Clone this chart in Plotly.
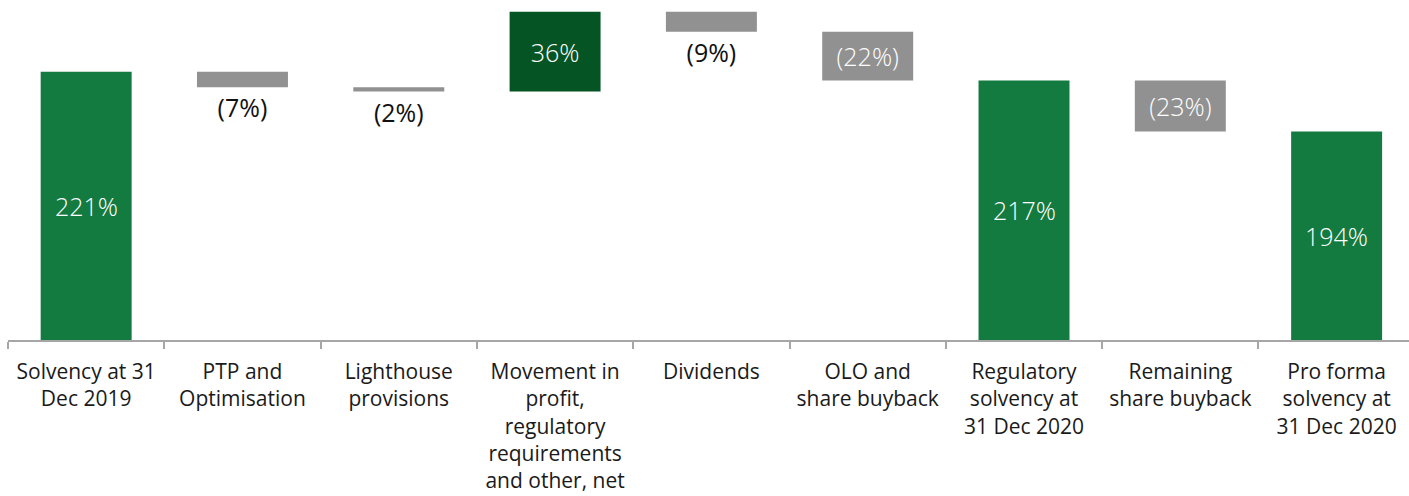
import plotly.graph_objects as go

# Solvency walk, % values
categories = [
    "Solvency at 31<br>Dec 2019",
    "PTP and<br>Optimisation",
    "Lighthouse<br>provisions",
    "Movement in<br>profit,<br>regulatory<br>requirements<br>and other, net",
    "Dividends",
    "OLO and<br>share buyback",
    "Regulatory<br>solvency at<br>31 Dec 2020",
    "Remaining<br>share buyback",
    "Pro forma<br>solvency at<br>31 Dec 2020",
]
measures = ["absolute", "relative", "relative", "relative", "relative",
            "relative", "total", "relative", "total"]
values = [221, -7, -2, 36, -9, -22, 0, -23, 0]

Y_MIN, Y_MAX = 100, 253.3

# running totals so that the labels on total bars show the computed value
labels = []
levels = []
running = 0
for m, v in zip(measures, values):
    if m == "absolute":
        running = v
        shown = v
    elif m == "relative":
        running += v
        shown = v
    else:
        shown = running
    levels.append(running)
    labels.append(f"({abs(shown)}%)" if shown < 0 else f"{shown}%")

# small steps get their label underneath the bar; level bars are labelled
# separately, centred on their visible part
positions = ["none", "outside", "outside", "inside", "outside",
             "inside", "none", "inside", "none"]

GREEN = "#137a40"
DARK_GREEN = "#055524"
GREY = "#919191"
LABEL_FONT = "Open Sans"

fig = go.Figure(go.Waterfall(
    x=categories,
    y=values,
    measure=measures,
    text=labels,
    textposition=positions,
    insidetextanchor="middle",
    outsidetextfont=dict(family=LABEL_FONT, size=25, color="#111111"),
    insidetextfont=dict(family=LABEL_FONT, size=25, color="#ffffff", weight=300),
    constraintext="none",
    increasing=dict(marker=dict(color=DARK_GREEN)),
    decreasing=dict(marker=dict(color=GREY)),
    totals=dict(marker=dict(color=GREEN)),
    connector=dict(visible=False),
    hoverinfo="skip",
))

for cat, m, lvl, lab in zip(categories, measures, levels, labels):
    if m in ("absolute", "total"):
        fig.add_annotation(
            x=cat, y=(Y_MIN + lvl) / 2,
            text=lab, showarrow=False,
            font=dict(family=LABEL_FONT, size=25, color="#ffffff", weight=300),
            xanchor="center", yanchor="middle",
        )

fig.update_layout(
    width=1409,
    height=496,
    margin=dict(l=8, r=0, t=0, b=156),
    paper_bgcolor="white",
    plot_bgcolor="white",
    showlegend=False,
    waterfallgap=0.418,
    font=dict(family=LABEL_FONT, color="#1a1a1a"),
)
fig.update_xaxes(
    type="category",
    range=[-0.5, 8.463],
    showline=True,
    linecolor="#a6a6a6",
    linewidth=1.5,
    ticks="outside",
    tickson="boundaries",
    ticklen=7,
    tickcolor="#a6a6a6",
    tickwidth=1.5,
    tickfont=dict(family=LABEL_FONT, size=21, color="#1a1a1a"),
    ticklabelstandoff=12,
    tickangle=0,
    showgrid=False,
)
fig.update_yaxes(
    range=[Y_MIN, Y_MAX],
    visible=False,
    showgrid=False,
    zeroline=False,
)

fig.write_html("out.html")
